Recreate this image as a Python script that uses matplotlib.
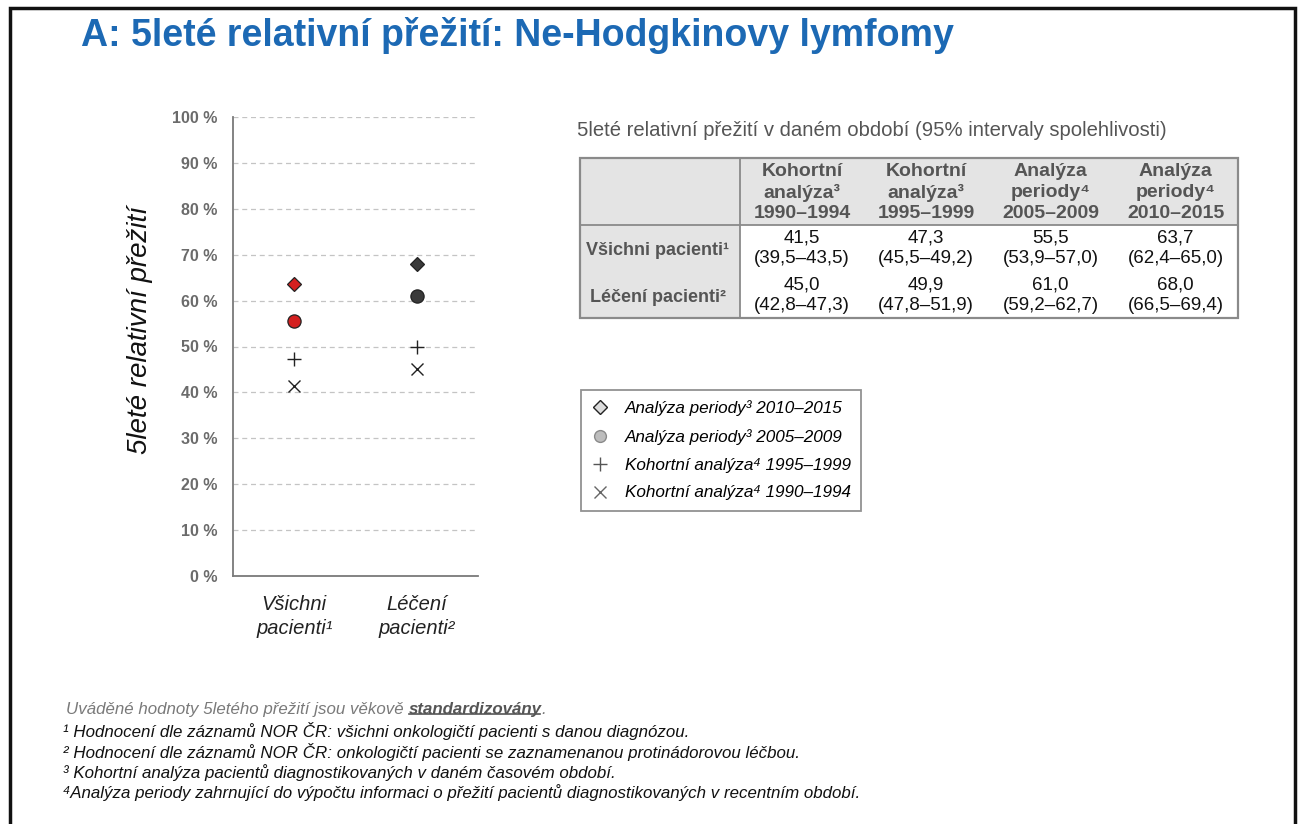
import matplotlib
matplotlib.use('Agg')
import matplotlib.pyplot as plt
from matplotlib.lines import Line2D
from matplotlib.patches import Rectangle

FONT = ['Liberation Sans', 'DejaVu Sans']
plt.rcParams['font.family'] = FONT

# ---------------- data ----------------
title = "A: 5leté relativní přežití: Ne-Hodgkinovy lymfomy"
ylabel = "5leté relativní přežití"
categories = ["Všichni\npacienti¹", "Léčení\npacienti²"]
row_labels = ["Všichni pacienti¹", "Léčení pacienti²"]
col_headers = ["Kohortní\nanalýza³\n1990–1994", "Kohortní\nanalýza³\n1995–1999",
               "Analýza\nperiody⁴\n2005–2009", "Analýza\nperiody⁴\n2010–2015"]
estimates = [[41.5, 47.3, 55.5, 63.7],
             [45.0, 49.9, 61.0, 68.0]]
ci_low = [[39.5, 45.5, 53.9, 62.4],
          [42.8, 47.8, 59.2, 66.5]]
ci_high = [[43.5, 49.2, 57.0, 65.0],
           [47.3, 51.9, 62.7, 69.4]]
legend_labels = ["Analýza periody³ 2010–2015", "Analýza periody³ 2005–2009",
                 "Kohortní analýza⁴ 1995–1999", "Kohortní analýza⁴ 1990–1994"]
yticks = [0, 10, 20, 30, 40, 50, 60, 70, 80, 90, 100]
table_title = "5leté relativní přežití v daném období (95% intervaly spolehlivosti)"
footnote_intro = "Uváděné hodnoty 5letého přežití jsou věkově "
footnote_bold = "standardizovány"
footnotes = ["¹ Hodnocení dle záznamů NOR ČR: všichni onkologičtí pacienti s danou diagnózou.",
             "² Hodnocení dle záznamů NOR ČR: onkologičtí pacienti se zaznamenanou protinádorovou léčbou.",
             "³ Kohortní analýza pacientů diagnostikovaných v daném časovém období.",
             "⁴Analýza periody zahrnující do výpočtu informaci o přežití pacientů diagnostikovaných v recentním období."]

# ---------------- layout helpers ----------------
W, H = 1300, 824
fig = plt.figure(figsize=(W / 100, H / 100), dpi=100)
fig.patch.set_facecolor('white')


def fx(px):
    return px / W


def fy(py):
    return 1 - py / H


# frame around slide
fig.patches.append(Rectangle((fx(10), fy(900)), fx(1295) - fx(10), (900 - 8) / H,
                             transform=fig.transFigure, fill=False,
                             edgecolor='#111111', linewidth=2.5))

fig.text(fx(81), fy(35), title, fontsize=27, fontweight='bold',
         color='#1c69b4', va='center', ha='left')

# ---------------- scatter chart ----------------
ax = fig.add_axes([fx(233), fy(576), fx(478) - fx(233), (576 - 117) / H])
ax.set_xlim(-0.5, 1.5)
ax.set_ylim(0, 100)
ax.set_yticks(yticks)
ax.set_yticklabels([f"{v} %" for v in yticks], fontsize=11.5, fontweight='bold',
                   color='#6b6b6b')
ax.set_xticks(range(len(categories)))
ax.set_xticklabels(categories, fontsize=14.5, style='italic', color='#222222',
                   linespacing=1.3)
ax.tick_params(axis='x', length=0, pad=14)
ax.tick_params(axis='y', length=0, pad=11)
ax.yaxis.grid(True, linestyle=(0, (4, 3)), color='#c4c4c4', linewidth=0.9)
ax.set_axisbelow(True)
for s in ['top', 'right']:
    ax.spines[s].set_visible(False)
for s in ['left', 'bottom']:
    ax.spines[s].set_color('#7a7a7a')
    ax.spines[s].set_linewidth(1.3)

cat_face = ['#d42020', '#3a3a3a']
for ci in range(len(categories)):
    vals = estimates[ci]
    ax.plot([ci], [vals[3]], marker='D', ms=7, mfc=cat_face[ci], mec='#222222',
            mew=0.9, ls='none', zorder=3)
    ax.plot([ci], [vals[2]], marker='o', ms=9.5, mfc=cat_face[ci], mec='#222222',
            mew=0.9, ls='none', zorder=3)
    ax.plot([ci], [vals[1]], marker='+', ms=9.5, mec='#222222', mew=1.0,
            ls='none', zorder=3)
    ax.plot([ci], [vals[0]], marker='x', ms=8.5, mec='#222222', mew=1.0,
            ls='none', zorder=3)

fig.text(fx(140), fy(330), ylabel, rotation=90, fontsize=20, style='italic',
         color='#111111', ha='center', va='center')

# ---------------- table ----------------
fig.text(fx(577), fy(130), table_title, fontsize=14.6, color='#555555',
         ha='left', va='center')

col_w = [160, 124, 124, 125, 125]
row_h = [67, 47, 46]
TW, TH = sum(col_w), sum(row_h)
tax = fig.add_axes([fx(580), fy(318), fx(1238) - fx(580), (318 - 158) / H])
tax.set_xlim(0, TW)
tax.set_ylim(TH, 0)
tax.axis('off')
gray_bg = '#e4e4e4'
tax.add_patch(Rectangle((0, 0), TW, row_h[0], facecolor=gray_bg, edgecolor='none'))
tax.add_patch(Rectangle((0, row_h[0]), col_w[0], TH - row_h[0], facecolor=gray_bg,
                        edgecolor='none'))
line_c = '#8a8a8a'
tax.add_patch(Rectangle((0, 0), TW, TH, fill=False, edgecolor=line_c, linewidth=1.6,
                        clip_on=False))
tax.plot([0, TW], [row_h[0], row_h[0]], color=line_c, lw=1.3)
tax.plot([col_w[0], col_w[0]], [0, TH], color=line_c, lw=1.3)

xs = [0]
for w in col_w:
    xs.append(xs[-1] + w)
ys = [0]
for h in row_h:
    ys.append(ys[-1] + h)

for j, hdr in enumerate(col_headers):
    cx = (xs[j + 1] + xs[j + 2]) / 2
    tax.text(cx, row_h[0] / 2 + 1, hdr, ha='center', va='center', fontsize=14,
             fontweight='bold', color='#555555', linespacing=1.27)


def fmt(v):
    return f"{v:.1f}".replace('.', ',')


for i, lab in enumerate(row_labels):
    cy = (ys[i + 1] + ys[i + 2]) / 2
    tax.text(col_w[0] / 2 - 2, cy + 2, lab, ha='center', va='center', fontsize=13,
             fontweight='bold', color='#555555')
    for j in range(len(col_headers)):
        cx = (xs[j + 1] + xs[j + 2]) / 2
        txt = f"{fmt(estimates[i][j])}\n({fmt(ci_low[i][j])}–{fmt(ci_high[i][j])})"
        tax.text(cx, cy, txt, ha='center', va='center', fontsize=13.5,
                 color='#111111', linespacing=1.3)

# ---------------- legend ----------------
handles = [
    Line2D([], [], marker='D', ms=7, mfc='#dcdcdc', mec='#222222', mew=1.0, ls='none'),
    Line2D([], [], marker='o', ms=8.5, mfc='#bdbdbd', mec='#8a8a8a', mew=1.0, ls='none'),
    Line2D([], [], marker='+', ms=9.5, mec='#555555', mew=1.0, ls='none'),
    Line2D([], [], marker='x', ms=8.5, mec='#666666', mew=1.0, ls='none'),
]
leg = fig.legend(handles, legend_labels, loc='upper left',
                 bbox_to_anchor=(fx(581), fy(390)), frameon=True, fancybox=False,
                 edgecolor='#777777', prop={'size': 12.3, 'style': 'italic', 'family': FONT},
                 labelspacing=0.75, handlelength=1.0, handletextpad=0.95,
                 borderpad=0.6, borderaxespad=0)
leg.get_frame().set_linewidth(1.3)

# ---------------- footnotes ----------------
bg = fig.add_axes([0, 0, 1, 1], zorder=-1)
bg.axis('off')
t1 = bg.text(fx(66), fy(717), footnote_intro, fontsize=12.2, style='italic',
             color='#7a7a7a', ha='left', va='bottom', transform=fig.transFigure)
t2 = bg.annotate(footnote_bold, xy=(1, 0), xycoords=t1, xytext=(0, 0),
                 textcoords='offset points', fontsize=12.2, style='italic',
                 fontweight='bold', color='#555555', ha='left', va='bottom')
t3 = bg.annotate(".", xy=(1, 0), xycoords=t2, xytext=(0, 0),
                 textcoords='offset points', fontsize=12.2, style='italic',
                 color='#7a7a7a', ha='left', va='bottom')
foot_y = [740, 761, 781, 801]
for yy, ft in zip(foot_y, footnotes):
    fig.text(fx(63), fy(yy), ft, fontsize=12.2, style='italic', color='#111111',
             ha='left', va='bottom')

fig.canvas.draw()
bb = t2.get_window_extent()
inv = fig.transFigure.inverted()
(x0, y0), (x1, _) = inv.transform([(bb.x0 + 1, bb.y0 + 3), (bb.x1 - 1, bb.y0 + 3)])
fig.add_artist(Line2D([x0, x1], [y0, y0], transform=fig.transFigure,
                      color='#555555', linewidth=1.2))

fig.savefig('out.png', dpi=100, facecolor='white')
